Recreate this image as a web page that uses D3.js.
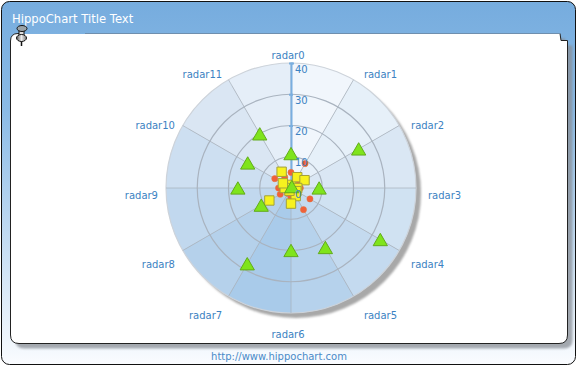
<!DOCTYPE html>
<html>
<head>
<meta charset="utf-8">
<script src="https://cdn.jsdelivr.net/npm/d3@7"></script>
<style>
  html, body { margin: 0; padding: 0; background: #fff; overflow: hidden; }
  text { font-family: "DejaVu Sans", sans-serif; }
</style>
</head>
<body>
<div id="chart"></div>
<script>
const categories = ["radar0", "radar1", "radar2", "radar3", "radar4", "radar5",
                    "radar6", "radar7", "radar8", "radar9", "radar10", "radar11"];
const radialTicks = [0, 10, 20, 30, 40];
const circleValues   = [5, 9, 3, 3, 7, 8, 3, 2, 4, 4, 6, 4];
const squareValues   = [1, 4, 5, 2, 2, 3, 5, 1, 8, 2, 3, 6];
const triangleValues = [11, 0.5, 25, 9, 33, 22, 20, 28, 11, 17, 16, 20];
const sectorFills = ["#f1f6fc", "#e6f0f9", "#dae7f4", "#d0e2f2", "#c4daef", "#b6d2ec",
                     "#a9cbea", "#b5d1eb", "#c1d8ee", "#cddff1", "#dae6f3", "#e5eef8"];

const W = 577, H = 366;
const cx = 291, cy = 188, outerR = 125;

const svg = d3.select("#chart").append("svg")
  .attr("width", W).attr("height", H).style("display", "block");

const defs = svg.append("defs");
const frameGrad = defs.append("linearGradient")
  .attr("id", "frameGrad").attr("x1", 0).attr("x2", 0).attr("y1", 0).attr("y2", 1);
frameGrad.append("stop").attr("offset", "0%").attr("stop-color", "#76acde");
frameGrad.append("stop").attr("offset", "30%").attr("stop-color", "#8bbbe6");
frameGrad.append("stop").attr("offset", "100%").attr("stop-color", "#fafcff");

const blur = defs.append("filter").attr("id", "soft")
  .attr("x", "-10%").attr("y", "-10%").attr("width", "120%").attr("height", "120%");
blur.append("feGaussianBlur").attr("stdDeviation", 1.2);

const pinGrad = defs.append("linearGradient").attr("id", "pinGrad");
pinGrad.append("stop").attr("offset", "0%").attr("stop-color", "#555");
pinGrad.append("stop").attr("offset", "50%").attr("stop-color", "#eee");
pinGrad.append("stop").attr("offset", "100%").attr("stop-color", "#777");

// ── Window frame ──────────────────────────────────────────────────────
svg.append("rect")
  .attr("x", 1.5).attr("y", 1.5).attr("width", 574).attr("height", 363).attr("rx", 8)
  .attr("fill", "url(#frameGrad)").attr("stroke", "#111");

svg.append("text")
  .attr("x", 12).attr("y", 23)
  .attr("fill", "#fff").attr("font-size", "11.6px")
  .text("HippoChart Title Text");

svg.append("text")
  .attr("x", 279).attr("y", 360)
  .attr("text-anchor", "middle")
  .attr("fill", "#4a8ac8").attr("font-size", "10px")
  .text("http://www.hippochart.com");

// ── Paper panel ───────────────────────────────────────────────────────
const panelPath = "M18,33.5 H560 L561,40.5 H567.5 V335 Q567.5,343.5 559,343.5 H19 Q10.5,343.5 10.5,335 V41 Q10.5,33.5 18,33.5 Z";
svg.append("path")
  .attr("d", panelPath)
  .attr("transform", "translate(5,5)")
  .attr("fill", "#8a8f96").attr("opacity", 0.75)
  .attr("filter", "url(#soft)");
svg.append("path").attr("d", panelPath).attr("fill", "#fff").attr("stroke", "#222");
svg.append("path")
  .attr("d", "M20,33.5 H85").attr("stroke", "#7eb1e0").attr("fill", "none");
svg.append("path")
  .attr("d", "M85,33.5 H560").attr("stroke", "#6f8fae").attr("fill", "none");

// ── Push pin ──────────────────────────────────────────────────────────
const pin = svg.append("g");
pin.append("path").attr("d", "M21.5,38 L21.5,46").attr("stroke", "#111").attr("stroke-width", 1.5);
pin.append("rect").attr("x", 19).attr("y", 30).attr("width", 5).attr("height", 6)
  .attr("fill", "#ddd").attr("stroke", "#111");
pin.append("ellipse").attr("cx", 21.5).attr("cy", 38).attr("rx", 5).attr("ry", 3.5)
  .attr("fill", "url(#pinGrad)").attr("stroke", "#111");
pin.append("ellipse").attr("cx", 22).attr("cy", 28.5).attr("rx", 5).attr("ry", 3)
  .attr("fill", "#9aa3a8").attr("stroke", "#111");

// ── Radar ─────────────────────────────────────────────────────────────
const g = svg.append("g").attr("transform", `translate(${cx},${cy})`);

const angle = d3.scalePoint()
  .domain(categories)
  .range([0, 2 * Math.PI * (categories.length - 1) / categories.length]);
const step = 2 * Math.PI / categories.length;
const radius = d3.scaleLinear().domain([0, 40]).range([0, outerR]);

g.append("circle")
  .attr("cx", 5).attr("cy", 5).attr("r", radius(40))
  .attr("fill", "#a8a8a8").attr("filter", "url(#soft)");

const arc = d3.arc().innerRadius(0).outerRadius(radius(40));
g.selectAll(".sector")
  .data(categories)
  .join("path")
    .attr("class", "sector")
    .attr("d", d => arc({ startAngle: angle(d), endAngle: angle(d) + step }))
    .attr("fill", (d, i) => sectorFills[i]);

// Rings
g.selectAll(".ring")
  .data(radialTicks.filter(t => t > 0))
  .join("circle")
    .attr("class", "ring")
    .attr("r", d => radius(d))
    .attr("fill", "none")
    .attr("stroke", d => d === 40 ? "#cdd3da" : "#a9b3bf")
    .attr("stroke-width", 1.2);

// Spokes
g.selectAll(".spoke")
  .data(categories)
  .join("line")
    .attr("class", "spoke")
    .attr("x2", d => d3.pointRadial(angle(d), radius(40))[0])
    .attr("y2", d => d3.pointRadial(angle(d), radius(40))[1])
    .attr("stroke", "#aab3be").attr("stroke-opacity", 0.75);

// Category labels
g.selectAll(".cat")
  .data(categories)
  .join("text")
    .attr("class", "cat")
    .attr("x", d => {
      const x = d3.pointRadial(angle(d), radius(40) + 10)[0];
      if (Math.abs(x) < 1) return x - 3;
      const c = Math.cos(angle(d));
      return x + 2 + Math.sign(x) * 4.5 * c * c;
    })
    .attr("y", d => {
      const y = d3.pointRadial(angle(d), radius(40) + 10)[1] + 6 - 4 * Math.cos(angle(d));
      return angle(d) === 0 ? y : y + 1;
    })
    .attr("dy", "0.35em")
    .attr("text-anchor", d => {
      const x = d3.pointRadial(angle(d), 1)[0];
      return Math.abs(x) < 0.01 ? "middle" : x > 0 ? "start" : "end";
    })
    .attr("fill", "#3c82c2").attr("font-size", "10px")
    .text(d => d);

// Radial axis line
const axisY = d3.scaleLinear().domain([0, 40]).range([0, -outerR]);
const axisG = g.append("g")
  .call(d3.axisRight(axisY).tickValues(radialTicks).tickSize(3).tickFormat(""));
axisG.select(".domain").attr("stroke", "#7aaedf").attr("stroke-width", 2);
axisG.selectAll("line").attr("stroke", "#7aaedf").attr("stroke-width", 2)
  .attr("x1", -2).attr("x2", 2);

// Series markers
function plotX(v, i) { return d3.pointRadial(angle(categories[i]), radius(v))[0]; }
function plotY(v, i) { return d3.pointRadial(angle(categories[i]), radius(v))[1]; }

g.selectAll(".pt-circle")
  .data(circleValues)
  .join("circle")
    .attr("class", "pt-circle")
    .attr("cx", plotX).attr("cy", plotY).attr("r", 3.1)
    .attr("fill", "#f0603a").attr("stroke", "#e2793f").attr("stroke-width", 0.5);

const squareSym = d3.symbol().type(d3.symbolSquare).size(88);
g.selectAll(".pt-square")
  .data(squareValues)
  .join("path")
    .attr("class", "pt-square")
    .attr("d", squareSym)
    .attr("transform", (d, i) => `translate(${plotX(d, i)},${plotY(d, i)})`)
    .attr("fill", "#f7f21f").attr("stroke", "#a3a03a");

const triangleSym = d3.symbol().type(d3.symbolTriangle).size(88);
g.selectAll(".pt-triangle")
  .data(triangleValues)
  .join("path")
    .attr("class", "pt-triangle")
    .attr("d", triangleSym)
    .attr("transform", (d, i) => `translate(${plotX(d, i)},${plotY(d, i) + 2})`)
    .attr("fill", "#7fe41c").attr("stroke", "#62ab1a");

// Radial tick labels sit on top of the markers
g.selectAll(".tick-label")
  .data(radialTicks)
  .join("text")
    .attr("class", "tick-label")
    .attr("x", 4)
    .attr("y", d => axisY(d) + 6)
    .attr("dy", "0.35em")
    .attr("fill", "#3c82c2").attr("font-size", "10px")
    .text(d => d);
</script>
</body>
</html>
